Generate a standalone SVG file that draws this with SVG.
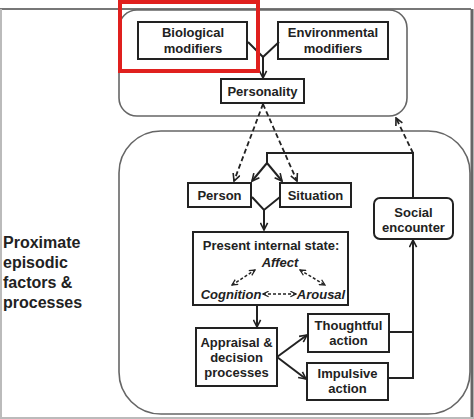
<svg xmlns="http://www.w3.org/2000/svg" width="474" height="419" viewBox="0 0 474 419">
<defs>
<style>
text{font-family:"Liberation Sans",Arial,sans-serif;font-weight:bold;font-size:13px;fill:#222;text-anchor:middle}
.box{fill:#fff;stroke:#222;stroke-width:2}
.grp{fill:none;stroke:#666;stroke-width:1.6}
.ln{fill:none;stroke:#222;stroke-width:2}
.ds{fill:none;stroke:#222;stroke-width:1.8;stroke-dasharray:5 3}
.dsm{fill:none;stroke:#222;stroke-width:1.5;stroke-dasharray:3 2}
</style>
<marker id="ah" viewBox="0 0 10 10" refX="9" refY="5" markerWidth="9" markerHeight="9" markerUnits="userSpaceOnUse" orient="auto">
<path d="M1,1 L9,5 L1,9" fill="none" stroke="#222" stroke-width="1.8"/>
</marker>
<marker id="as" viewBox="0 0 10 10" refX="9" refY="5" markerWidth="7" markerHeight="7" markerUnits="userSpaceOnUse" orient="auto-start-reverse">
<path d="M1,1 L9,5 L1,9" fill="none" stroke="#222" stroke-width="1.8"/>
</marker>
</defs>
<rect width="474" height="419" fill="#fff"/>
<!-- outer frame -->
<line x1="0" y1="9" x2="471" y2="9" stroke="#777" stroke-width="2"/>
<line x1="1" y1="9" x2="1" y2="419" stroke="#bbb" stroke-width="2"/>
<line x1="472" y1="9" x2="472" y2="419" stroke="#666" stroke-width="3"/>
<line x1="0" y1="418" x2="474" y2="418" stroke="#bbb" stroke-width="2"/>
<!-- group containers -->
<rect class="grp" x="119" y="10" width="288" height="106" rx="18"/>
<rect class="grp" x="119" y="131" width="351" height="283" rx="42"/>
<g id="label-proximate">
<text x="3" y="248" style="font-size:16px;text-anchor:start">Proximate</text>
<text x="3" y="268" style="font-size:16px;text-anchor:start">episodic</text>
<text x="3" y="288" style="font-size:16px;text-anchor:start">factors &amp;</text>
<text x="3" y="308" style="font-size:16px;text-anchor:start">processes</text>
</g>
<g id="biological">
<rect class="box" x="138" y="22" width="109" height="37"/>
<text x="193" y="37">Biological</text>
<text x="193" y="53">modifiers</text>
</g>
<g id="environmental">
<rect class="box" x="278" y="22" width="110" height="37"/>
<text x="333" y="37">Environmental</text>
<text x="333" y="53">modifiers</text>
</g>
<g id="personality">
<rect class="box" x="221" y="79" width="83" height="24"/>
<text x="262.5" y="96">Personality</text>
</g>
<g id="person">
<rect class="box" x="188" y="183" width="63" height="24"/>
<text x="219.5" y="200">Person</text>
</g>
<g id="situation">
<rect class="box" x="280" y="183" width="71" height="24"/>
<text x="315.5" y="200">Situation</text>
</g>
<g id="social">
<rect class="box" x="374" y="198" width="79" height="41" rx="6"/>
<text x="413.5" y="217">Social</text>
<text x="413.5" y="232">encounter</text>
</g>
<g id="present">
<rect class="box" x="193" y="232" width="155" height="73"/>
<text x="271" y="250">Present internal state:</text>
<text x="280" y="267" font-style="italic">Affect</text>
<text x="231" y="299" font-style="italic">Cognition</text>
<text x="321" y="299" font-style="italic">Arousal</text>
</g>
<g id="appraisal">
<rect class="box" x="196" y="328" width="81" height="58"/>
<text x="236.5" y="347">Appraisal &amp;</text>
<text x="236.5" y="362">decision</text>
<text x="236.5" y="377">processes</text>
</g>
<g id="thoughtful">
<rect class="box" x="308" y="314" width="81" height="38"/>
<text x="348.5" y="330">Thoughtful</text>
<text x="348.5" y="345">action</text>
</g>
<g id="impulsive">
<rect class="box" x="307" y="363" width="81" height="37"/>
<text x="347.5" y="378">Impulsive</text>
<text x="347.5" y="393">action</text>
</g>
<g id="connectors">
<polyline class="ln" points="248,42 263,57 263,78" marker-end="url(#ah)"/>
<line class="ln" x1="279" y1="42" x2="263" y2="57"/>
<line class="ds" x1="263" y1="104" x2="234" y2="181" marker-end="url(#ah)"/>
<line class="ds" x1="263" y1="104" x2="297" y2="181" marker-end="url(#ah)"/>
<polyline class="ln" points="413,197 413,153 267,153 267,163"/>
<line class="ln" x1="267" y1="163" x2="252" y2="181" marker-end="url(#ah)"/>
<line class="ln" x1="267" y1="163" x2="282" y2="181" marker-end="url(#ah)"/>
<line class="ds" x1="413" y1="153" x2="396" y2="118" marker-end="url(#ah)"/>
<polyline class="ln" points="252,197 264,210 280,197"/>
<line class="ln" x1="264" y1="210" x2="264" y2="230" marker-end="url(#ah)"/>
<line class="ln" x1="257" y1="306" x2="257" y2="327" marker-end="url(#ah)"/>
<line class="ln" x1="277" y1="357" x2="307" y2="335" marker-end="url(#ah)"/>
<line class="ln" x1="277" y1="357" x2="306" y2="379" marker-end="url(#ah)"/>
<line class="ln" x1="390" y1="332" x2="413" y2="332"/>
<polyline class="ln" points="389,378 413,378 413,240" marker-end="url(#ah)"/>
<line class="dsm" x1="232" y1="285" x2="255" y2="270" marker-start="url(#as)" marker-end="url(#as)"/>
<line class="dsm" x1="300" y1="270" x2="325" y2="285" marker-start="url(#as)" marker-end="url(#as)"/>
<line class="dsm" x1="263" y1="294" x2="296" y2="294" marker-start="url(#as)" marker-end="url(#as)"/>
</g>
<rect id="highlight" x="120" y="2" width="138" height="69" fill="none" stroke="#e0201e" stroke-width="4"/>
</svg>
